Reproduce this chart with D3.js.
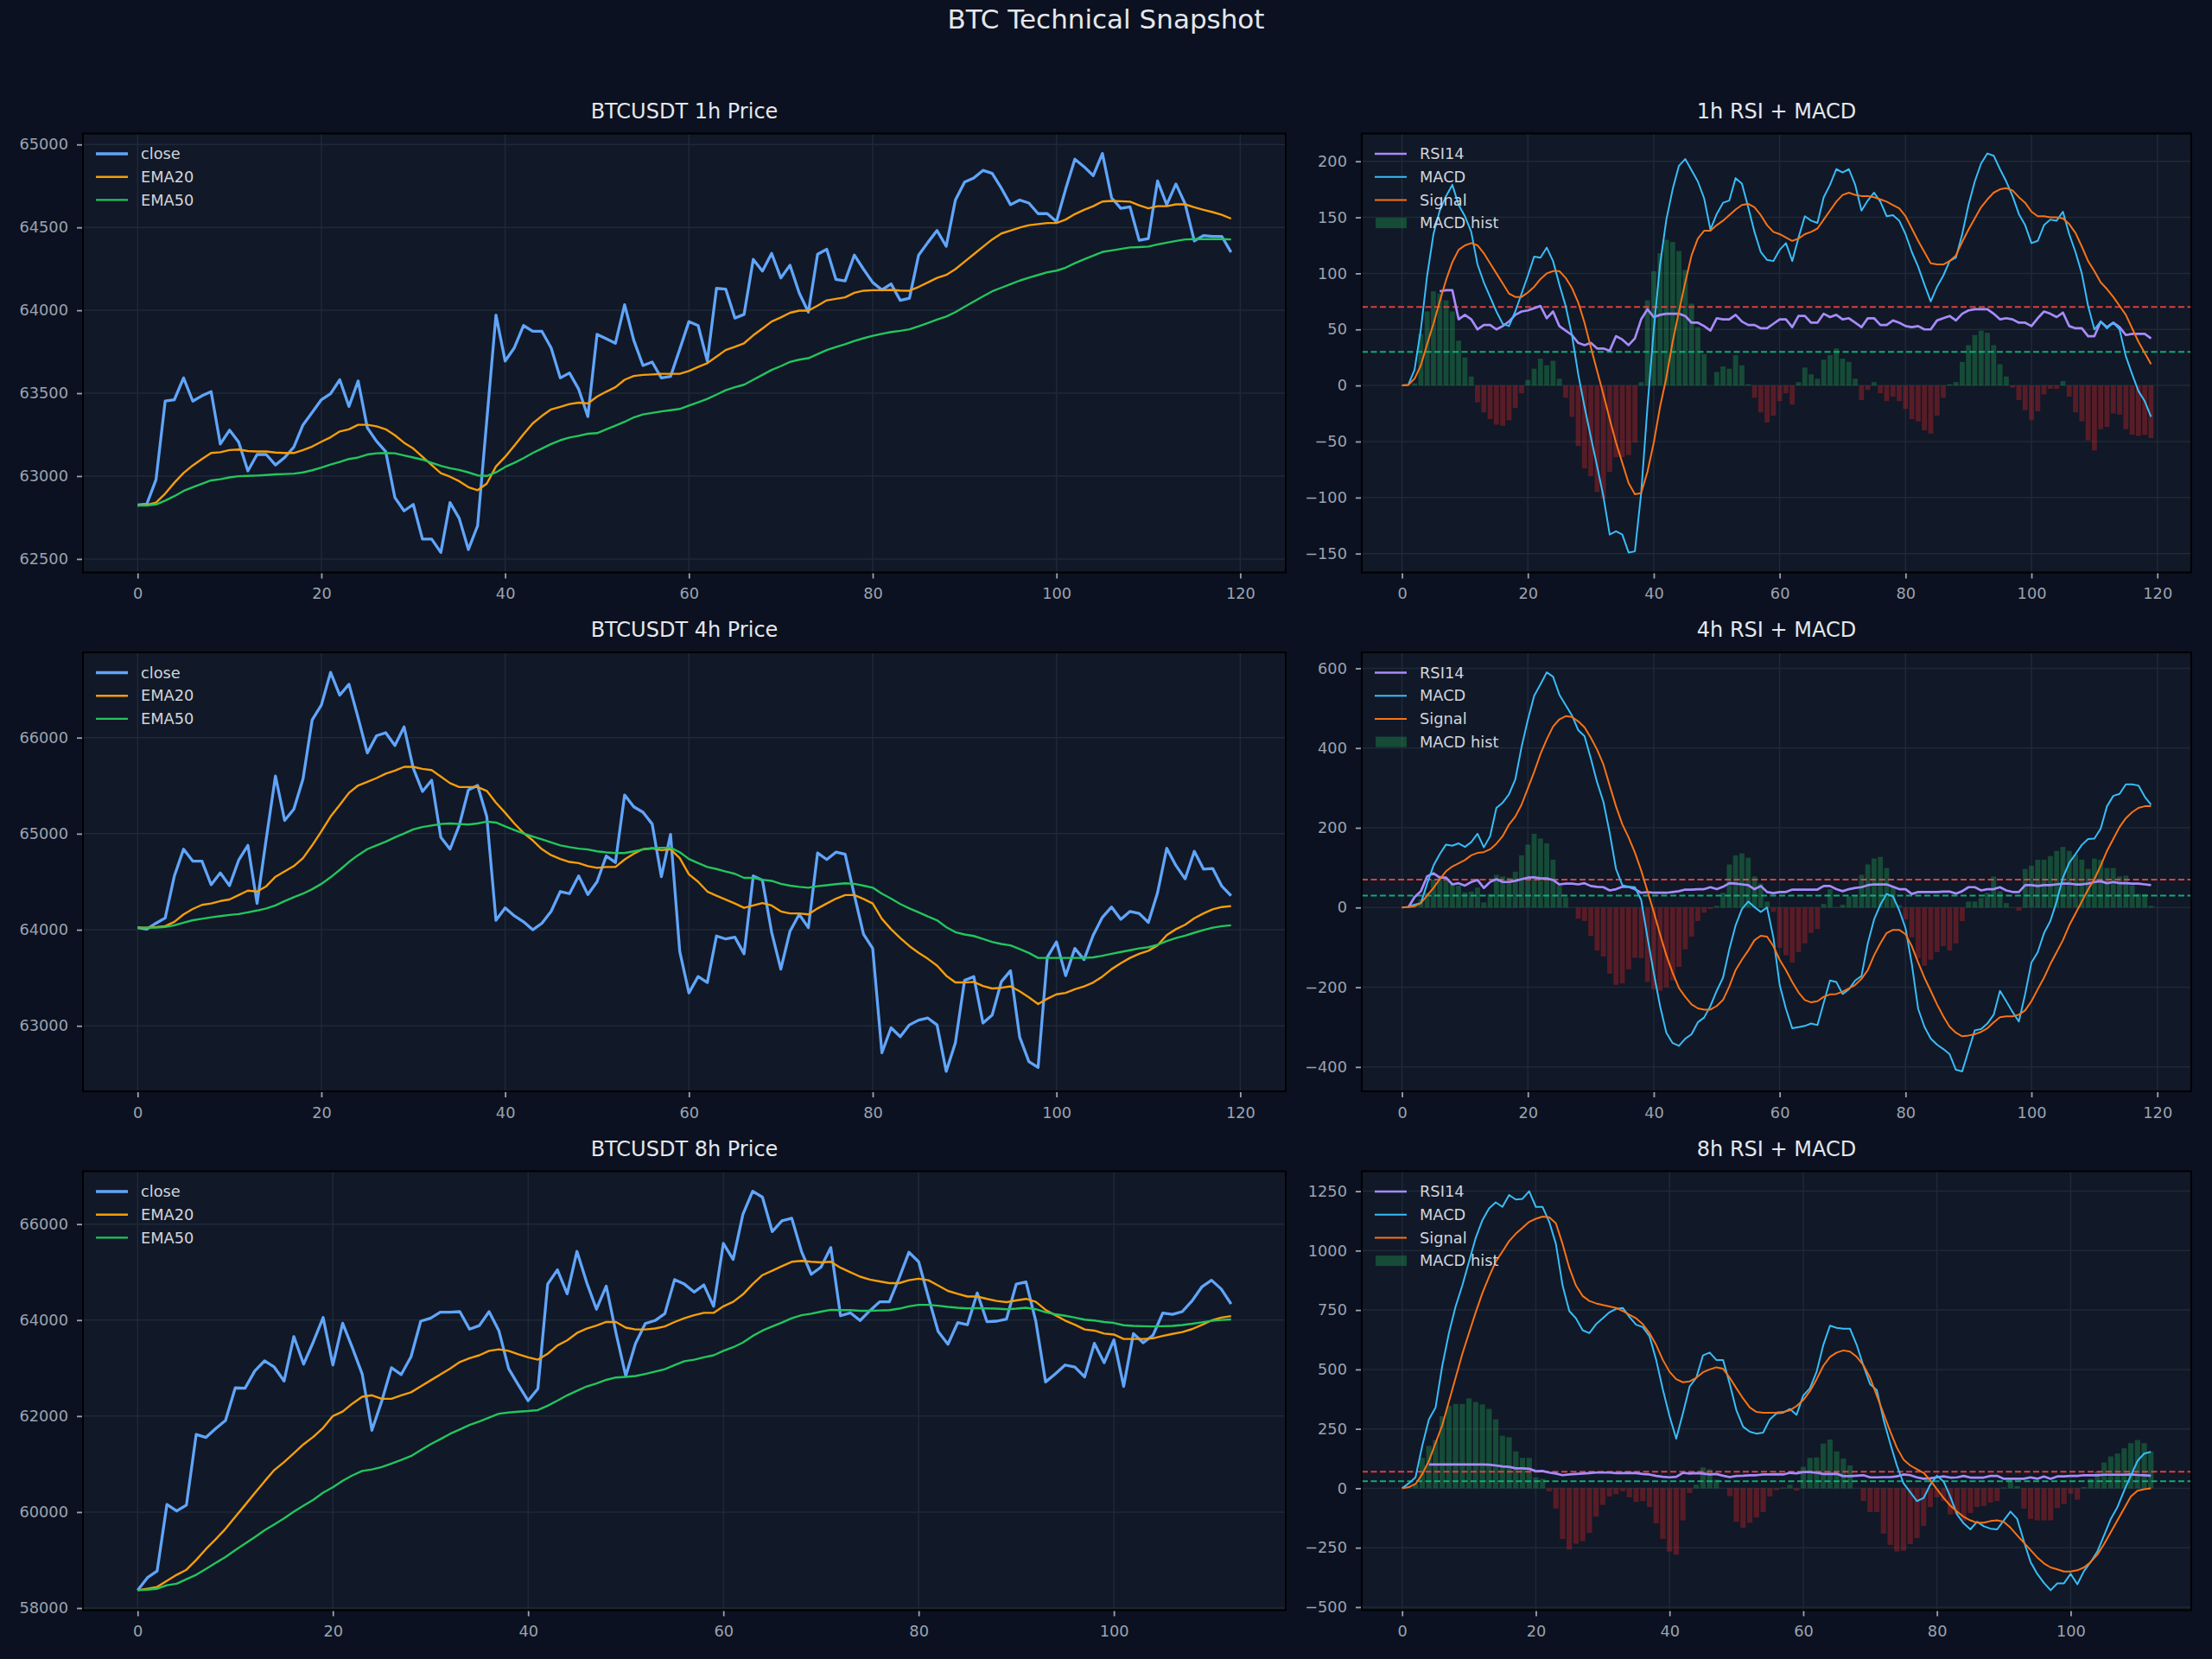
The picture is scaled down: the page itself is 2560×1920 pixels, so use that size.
<!DOCTYPE html>
<html>
<head>
<meta charset="utf-8">
<script src="https://cdn.jsdelivr.net/npm/d3@7"></script>
<style>
  body { margin: 0; background: #0b1120; }
  svg { display: block; font-family: "DejaVu Sans", sans-serif; }
</style>
</head>
<body>
<div id="chart"></div>
<script>
// ---- 1h ----
var close1h = [62826,62831,62978,63452,63461,63592,63452,63484,63509,63193,
  63277,63205,63031,63130,63130,63067,63112,63175,63309,63384,
  63461,63497,63581,63420,63574,63291,63210,63148,62870,62790,
  62829,62620,62620,62539,62840,62745,62557,62700,63336,63971,
  63694,63774,63908,63873,63873,63774,63592,63622,63524,63359,
  63855,63828,63801,64034,63819,63667,63688,63592,63601,63765,
  63932,63908,63694,64132,64128,63953,63975,64307,64236,64343,
  64195,64272,64105,63989,64338,64368,64186,64177,64333,64248,
  64168,64123,64159,64060,64073,64333,64409,64481,64386,64665,
  64773,64798,64844,64826,64737,64637,64665,64647,64583,64583,
  64535,64731,64911,64866,64812,64946,64678,64615,64624,64422,
  64433,64780,64637,64762,64642,64418,64451,64445,64445,64350];
var ema20_1h = [62822,62826,62840,62894,62960,63019,63064,63103,63139,63144,
  63157,63160,63151,63148,63148,63142,63139,63139,63157,63178,
  63207,63234,63269,63282,63309,63309,63300,63282,63246,63201,
  63166,63116,63067,63017,62996,62969,62933,62915,62954,63058,
  63116,63184,63252,63318,63363,63402,63417,63434,63443,63438,
  63479,63509,63536,63581,63604,63610,63613,63617,63617,63617,
  63634,63658,63681,63720,63760,63780,63801,63849,63890,63932,
  63957,63985,63998,63998,64028,64060,64069,64078,64105,64118,
  64121,64121,64123,64119,64118,64141,64168,64195,64213,64248,
  64293,64338,64383,64427,64463,64481,64499,64513,64520,64526,
  64526,64547,64580,64606,64628,64656,64660,64658,64655,64633,
  64615,64628,64628,64639,64639,64621,64606,64592,64576,64553];
var ema50_1h = [62822,62822,62829,62852,62879,62910,62933,62954,62974,62981,
  62992,62999,63001,63003,63006,63010,63012,63015,63022,63035,
  63051,63069,63085,63103,63112,63130,63137,63139,63137,63124,
  63112,63099,63080,63062,63047,63037,63022,63004,63001,63022,
  63055,63080,63108,63139,63166,63193,63216,63232,63243,63255,
  63259,63282,63304,63327,63354,63372,63381,63390,63397,63405,
  63425,63445,63466,63491,63518,63536,63551,63581,63610,63640,
  63663,63688,63702,63711,63735,63760,63778,63795,63815,63831,
  63846,63858,63869,63876,63885,63903,63923,63944,63962,63989,
  64021,64053,64084,64114,64136,64157,64179,64197,64213,64229,
  64239,64257,64284,64307,64329,64352,64361,64370,64379,64381,
  64384,64397,64408,64418,64427,64429,64429,64429,64429,64427];
var rsi1h = [null,null,null,null,null,null,84,85,85,59,
  63,59,50,54,54,50,53,57,63,66,
  67,69,71,60,66,53,49,45,38,36,
  38,33,33,31,44,41,36,42,59,68,
  61,63,64,64,64,62,56,56,53,49,
  60,59,59,63,57,54,54,51,51,55,
  59,59,52,62,62,56,56,64,61,63,
  59,60,56,52,60,60,54,54,58,56,
  53,52,53,50,50,58,60,62,58,64,
  67,68,68,68,64,59,60,59,56,56,
  53,60,66,64,61,65,53,51,51,44,
  44,57,52,56,52,45,46,46,46,42];
var macd1h = [0,0.5,14,50,98,135,156,169,179,161,
  151,137,108,92,79,66,55,53,66,82,
  98,115,114,123,111,90,71,45,10,-19,
  -46,-72,-99,-133,-130,-133,-149,-148,-96,-19,
  50,108,148,175,196,202,192,182,167,139,
  153,163,165,185,180,159,137,119,112,111,
  121,127,111,132,151,147,145,168,179,193,
  190,193,179,156,165,172,164,151,152,147,
  135,119,106,90,75,88,98,111,114,135,
  161,182,198,207,205,193,182,169,153,143,
  127,129,143,148,147,155,135,119,100,71,
  50,57,51,56,50,26,10,-5,-14,-28];
var signal1h = [0,0.5,6,18,37,55,75,94,110,121,
  125,127,125,118,109,100,91,82,79,79,
  83,88,95,100,102,102,96,87,74,56,
  34,13,-8,-30,-51,-69,-87,-97,-96,-77,
  -51,-19,7,39,66,92,116,131,138,138,
  143,147,152,157,161,162,159,152,143,137,
  135,132,129,131,135,137,140,148,156,164,
  170,172,170,169,169,168,166,164,161,158,
  151,140,129,119,109,108,108,111,116,128,
  139,149,159,166,172,175,176,174,168,163,
  155,151,151,150,150,149,144,136,124,111,
  102,92,86,79,71,63,51,39,29,19];
var hist1h = [0,0,2,46,66,84,82,76,66,40,
  25,8,-15,-24,-30,-35,-36,-31,-20,-7,
  5,15,24,18,22,6,-11,-28,-54,-74,
  -81,-95,-101,-77,-64,-64,-62,-51,3,76,
  102,118,130,128,120,103,73,52,28,0,
  12,17,15,27,18,1,-11,-24,-33,-27,
  -14,-7,-17,3,16,10,6,23,27,33,
  24,21,6,-13,-4,3,-7,-14,-10,-14,
  -21,-30,-32,-40,-43,-27,-11,1,3,21,
  36,45,49,47,36,19,8,-2,-13,-22,
  -31,-23,-8,-3,-3,4,-10,-24,-32,-49,
  -58,-39,-37,-25,-26,-39,-44,-45,-44,-47];

// ---- 4h ----
var close4h = [64022,64006,64068,64123,64561,64839,64715,64715,64469,64592,
  64459,64725,64879,64274,64947,65600,65138,65255,65570,66186,
  66340,66680,66442,66556,66205,65841,66020,66051,65918,66112,
  65681,65440,65557,64962,64839,65085,65455,65502,65178,64099,
  64228,64145,64083,64000,64068,64191,64398,64376,64561,64367,
  64500,64768,64700,65403,65280,65224,65101,64552,64993,63775,
  63343,63513,63451,63935,63904,63923,63750,64561,64515,63975,
  63590,63985,64160,64022,64799,64731,64808,64786,64361,63954,
  63806,62720,62979,62887,63010,63059,63081,63010,62526,62825,
  63473,63513,63029,63112,63460,63574,62881,62628,62566,63713,
  63874,63522,63806,63689,63944,64130,64237,64108,64191,64170,
  64077,64385,64848,64669,64530,64817,64632,64638,64453,64355];
var ema20_4h = [64022,64022,64028,64037,64083,64160,64216,64259,64274,64299,
  64315,64361,64407,64398,64453,64552,64607,64663,64746,64879,
  65024,65178,65301,65425,65502,65539,65579,65625,65656,65696,
  65696,65674,65662,65594,65526,65486,65486,65486,65446,65323,
  65218,65107,65008,64931,64839,64777,64737,64706,64694,64663,
  64645,64654,64654,64731,64792,64839,64848,64829,64839,64746,
  64577,64500,64398,64355,64315,64274,64228,64253,64278,64253,
  64191,64170,64170,64160,64222,64274,64324,64361,64361,64321,
  64274,64114,64006,63914,63830,63759,63698,63627,63522,63451,
  63451,63457,63414,63389,63396,63411,63359,63297,63226,63282,
  63328,63343,63380,63411,63451,63513,63590,63652,63707,63750,
  63781,63837,63944,64006,64052,64120,64170,64213,64237,64247];
var ema50_4h = [64022,64022,64022,64028,64046,64074,64099,64114,64130,64142,
  64154,64163,64182,64200,64222,64253,64299,64339,64376,64422,
  64478,64546,64623,64706,64777,64839,64879,64916,64962,65002,
  65045,65070,65085,65101,65107,65101,65095,65107,65126,65116,
  65076,65039,65002,64971,64941,64910,64879,64860,64845,64836,
  64817,64805,64799,64799,64817,64836,64848,64854,64854,64808,
  64737,64694,64654,64632,64607,64583,64540,64540,64521,64509,
  64478,64459,64447,64438,64453,64463,64475,64484,64478,64459,
  64438,64376,64324,64268,64222,64182,64139,64099,64028,63975,
  63951,63935,63904,63874,63852,63837,63800,63759,63707,63707,
  63707,63707,63707,63707,63713,63729,63750,63769,63787,63806,
  63818,63843,63883,63914,63938,63969,63997,64022,64037,64046];
var rsi4h = [null,0,26,41,78,86,75,75,58,61,
  55,64,69,49,64,71,64,64,67,71,
  75,76,73,73,69,58,60,60,58,61,
  54,52,51,43,46,52,52,46,37,39,
  37,37,37,39,41,45,45,46,46,51,
  46,52,61,60,58,56,46,54,39,36,
  39,39,45,45,45,45,45,54,54,46,
  41,46,49,51,56,58,58,58,52,46,
  46,34,39,39,39,39,40,40,35,41,
  51,51,43,46,46,51,43,39,39,56,
  56,54,56,56,58,60,60,58,58,60,
  64,66,61,64,61,61,60,60,58,56];
var macd4h = [0,2,7,11,60,105,134,158,155,161,
  152,164,185,151,179,250,263,284,321,403,
  471,531,560,590,579,534,508,482,445,430,
  374,314,265,187,97,56,52,51,19,-75,
  -164,-247,-314,-340,-347,-329,-318,-288,-276,-247,
  -209,-176,-105,-45,-4,15,1,-11,0,-75,
  -194,-254,-303,-300,-297,-291,-295,-239,-183,-187,
  -217,-205,-183,-172,-90,-30,7,34,28,-7,
  -52,-142,-254,-299,-329,-344,-355,-368,-407,-411,
  -359,-308,-305,-291,-269,-209,-235,-262,-286,-217,
  -138,-112,-64,-34,15,75,112,134,157,172,
  173,198,254,280,285,309,309,306,278,258];
var signal4h = [0,1,3,11,30,49,71,91,103,111,
  119,131,137,139,146,160,179,208,228,258,
  299,340,385,422,454,472,480,478,467,452,
  426,396,359,306,254,209,176,138,93,41,
  -11,-67,-120,-164,-202,-224,-243,-253,-256,-256,
  -247,-232,-198,-157,-131,-108,-82,-71,-73,-97,
  -131,-157,-187,-213,-232,-238,-235,-224,-218,-217,
  -211,-203,-194,-179,-157,-120,-90,-64,-56,-56,
  -67,-97,-138,-176,-209,-243,-273,-299,-314,-323,
  -321,-318,-312,-303,-288,-275,-273,-273,-269,-258,
  -235,-205,-176,-142,-112,-82,-45,-15,15,45,
  71,105,142,172,202,224,239,250,254,254];
var hist4h = [0,0,2,20,37,70,80,70,58,55,
  38,40,50,13,34,82,78,75,90,131,
  158,185,173,161,120,56,26,0,-28,-34,
  -71,-108,-123,-166,-194,-190,-155,-126,-127,-187,
  -205,-209,-200,-183,-149,-105,-73,-34,-13,-4,
  4,37,108,131,136,125,78,60,15,-11,
  -101,-120,-138,-112,-90,-64,-54,9,46,1,
  7,28,31,82,108,123,127,99,52,6,
  -30,-75,-127,-146,-131,-112,-97,-108,-90,-34,
  15,15,24,37,78,41,11,0,-8,97,
  105,120,120,129,142,152,142,133,120,97,
  123,120,99,99,78,80,56,34,34,4];

// ---- 8h ----
var close8h = [58371,58631,58773,60158,60022,60145,61617,61555,61740,61907,
  62587,62581,62940,63150,63020,62730,63657,63082,63546,64053,
  63064,63935,63422,62878,61703,62309,63008,62865,63236,63978,
  64040,64164,64164,64176,63811,63886,64176,63781,62989,62649,
  62321,62569,64751,65048,64547,65431,64782,64226,64708,63731,
  62835,63515,63929,63991,64133,64844,64750,64584,64732,64287,
  65598,65264,66204,66686,66562,65845,66068,66123,65431,64955,
  65103,65511,64090,64152,63991,64195,64380,64380,64875,65413,
  65215,64473,63762,63496,63947,63904,64566,63966,63978,64022,
  64751,64794,63978,62711,62878,63064,63020,62816,63515,63113,
  63589,62618,63719,63527,63682,64145,64121,64176,64399,64690,
  64831,64646,64337];
var ema20_8h = [58371,58402,58439,58569,58692,58798,59002,59230,59434,59651,
  59898,60145,60393,60640,60875,61042,61227,61413,61567,61753,
  62000,62093,62260,62402,62433,62359,62359,62433,62495,62618,
  62742,62866,62989,63125,63206,63267,63360,63391,63360,63286,
  63224,63175,63298,63471,63577,63731,63824,63886,63960,63960,
  63842,63805,63805,63824,63867,63960,64040,64102,64151,64151,
  64287,64380,64535,64751,64937,65030,65122,65215,65233,65215,
  65203,65215,65091,64998,64905,64844,64807,64770,64770,64831,
  64862,64831,64720,64608,64547,64491,64491,64442,64399,64374,
  64411,64442,64380,64213,64102,63991,63904,63805,63781,63719,
  63700,63607,63607,63607,63620,63669,63713,63750,63811,63898,
  63991,64053,64083];
var ema50_8h = [58371,58383,58402,58476,58507,58600,58692,58816,58940,59063,
  59206,59342,59478,59620,59743,59867,60009,60133,60257,60405,
  60516,60652,60764,60856,60887,60937,61011,61085,61165,61289,
  61413,61518,61629,61722,61815,61889,61969,62049,62074,62093,
  62105,62124,62216,62321,62433,62526,62618,62680,62754,62804,
  62816,62835,62878,62927,62977,63063,63144,63175,63224,63267,
  63360,63434,63533,63669,63781,63867,63947,64040,64102,64133,
  64176,64213,64207,64207,64195,64195,64201,64207,64238,64287,
  64318,64318,64300,64275,64256,64244,64250,64244,64238,64226,
  64238,64256,64226,64164,64121,64090,64053,64009,63991,63960,
  63941,63892,63880,63873,63867,63873,63880,63898,63923,63954,
  63985,64003,64015];
var rsi8h = [null,null,null,null,100,100,100,100,100,100,
  100,100,100,99,96,92,90,84,84,82,
  72,73,66,62,55,58,60,62,64,66,
  66,66,64,64,65,64,60,58,52,48,
  46,48,65,62,64,62,58,60,53,47,
  52,53,55,55,58,58,59,58,65,63,
  68,68,65,60,60,61,51,51,53,55,
  46,46,47,47,50,58,55,46,40,42,
  46,50,45,46,52,45,45,45,52,52,
  40,40,40,40,46,40,50,40,50,50,
  52,52,55,55,55,57,57,57,57,58,
  56,55,53];
var macd8h = [0,21,46,178,290,340,515,653,765,853,
  953,1053,1128,1178,1203,1184,1234,1215,1218,1250,
  1184,1184,1121,1028,853,746,715,665,653,690,
  715,740,755,759,721,688,678,640,540,415,
  303,209,315,428,465,559,571,540,540,440,
  328,259,238,230,234,290,315,318,334,309,
  390,421,490,603,684,675,671,671,603,515,
  438,413,290,190,96,21,-16,-54,-41,15,
  53,28,-35,-110,-148,-173,-141,-160,-170,-173,
  -135,-98,-129,-223,-310,-360,-398,-429,-400,-400,
  -360,-404,-348,-310,-266,-198,-129,-79,-10,53,
  115,146,153];
var signal8h = [0,5,18,59,115,190,265,365,465,565,
  653,740,821,890,953,996,1040,1071,1096,1121,
  1134,1143,1140,1115,1028,928,853,809,788,778,
  771,765,759,746,730,715,690,653,603,540,
  490,459,446,450,465,488,500,509,503,465,
  421,378,340,321,318,318,319,321,328,346,
  371,409,459,515,553,571,580,575,553,518,
  465,390,315,240,171,121,96,80,65,34,
  -4,-41,-73,-98,-120,-135,-145,-145,-138,-135,
  -141,-166,-198,-229,-260,-291,-316,-333,-341,-350,
  -350,-345,-333,-310,-279,-235,-185,-135,-85,-35,
  -10,-4,0];
var hist8h = [0,5,20,128,178,203,303,346,355,355,
  378,363,353,334,290,221,215,155,128,128,
  46,40,-13,-85,-213,-258,-233,-223,-188,-120,
  -70,-35,-25,-13,-38,-58,-54,-79,-148,-213,
  -266,-279,-135,-20,15,88,80,36,0,-33,
  -141,-166,-145,-123,-100,-35,-8,3,15,-10,
  90,128,130,188,205,155,125,96,0,-54,
  -100,-100,-191,-238,-266,-263,-235,-210,-158,-79,
  -38,-54,-110,-108,-138,-104,-79,-75,-60,-54,
  3,40,9,-85,-129,-135,-135,-135,-83,-66,
  -23,-48,5,40,71,109,134,146,168,190,
  203,190,155];

// tick labels
var xTicksLong = [0, 20, 40, 60, 80, 100, 120];
var xTicksShort = [0, 20, 40, 60, 80, 100];
var priceTicks1h = [62500, 63000, 63500, 64000, 64500, 65000];
var priceTicks4h = [63000, 64000, 65000, 66000];
var priceTicks8h = [58000, 60000, 62000, 64000, 66000];
var indTicks1h = [-150, -100, -50, 0, 50, 100, 150, 200];
var indTicks4h = [-400, -200, 0, 200, 400, 600];
var indTicks8h = [-500, -250, 0, 250, 500, 750, 1000, 1250];
var frames = ['1h', '4h', '8h'];

var rows = [
  {tf: frames[0], close: close1h, ema20: ema20_1h, ema50: ema50_1h, rsi: rsi1h, macd: macd1h, signal: signal1h, hist: hist1h, pTicks: priceTicks1h, iTicks: indTicks1h, xTicks: xTicksLong},
  {tf: frames[1], close: close4h, ema20: ema20_4h, ema50: ema50_4h, rsi: rsi4h, macd: macd4h, signal: signal4h, hist: hist4h, pTicks: priceTicks4h, iTicks: indTicks4h, xTicks: xTicksLong},
  {tf: frames[2], close: close8h, ema20: ema20_8h, ema50: ema50_8h, rsi: rsi8h, macd: macd8h, signal: signal8h, hist: hist8h, pTicks: priceTicks8h, iTicks: indTicks8h, xTicks: xTicksShort}
];

var W = 2560, H = 1920;
var leftX = 96, leftW = 1392, rightX = 1576, rightW = 960;
var rowTop = [154.5, 755, 1355.5], rowH = 508;

var col = {
  close: '#60a5fa', ema20: '#f59e0b', ema50: '#22c55e',
  rsi: '#a78bfa', macd: '#38bdf8', signal: '#f97316',
  histUp: '#22c55e', histDown: '#dc2626',
  ob: '#ef4444', os: '#10b981',
  tick: '#9ca3af', text: '#e5e7eb', legend: '#d1d5db',
  grid: '#1f2937', axBg: '#111827'
};

var svg = d3.select('#chart').append('svg')
  .attr('width', W)
  .attr('height', H);

svg.append('rect').attr('width', W).attr('height', H).attr('fill', '#0b1120');

svg.append('text')
  .attr('x', W / 2)
  .attr('y', 33)
  .attr('text-anchor', 'middle')
  .attr('fill', col.text)
  .style('font-size', '31px')
  .text('BTC Technical Snapshot');

function pad(ext) {
  var s = ext[1] - ext[0];
  return [ext[0] - s * 0.05, ext[1] + s * 0.05];
}

// background, grid, axes, spines and title for one panel
function frame(g, x, y, xs, ys, xTicks, yTicks, title) {
  var x0 = xs.range()[0], x1 = xs.range()[1];
  var y0 = ys.range()[1], y1 = ys.range()[0];
  g.append('rect')
    .attr('x', x0).attr('y', y0)
    .attr('width', x1 - x0).attr('height', y1 - y0)
    .attr('fill', col.axBg);

  g.append('g').selectAll('line').data(xTicks).enter().append('line')
    .attr('x1', d => xs(d)).attr('x2', d => xs(d))
    .attr('y1', y0).attr('y2', y1)
    .attr('stroke', col.grid).attr('stroke-width', 1.5);
  g.append('g').selectAll('line').data(yTicks).enter().append('line')
    .attr('x1', x0).attr('x2', x1)
    .attr('y1', d => ys(d)).attr('y2', d => ys(d))
    .attr('stroke', col.grid).attr('stroke-width', 1.5);

  var fmt = d3.format('d');
  var ax = g.append('g')
    .attr('transform', 'translate(0,' + y1 + ')')
    .call(d3.axisBottom(xs).tickValues(xTicks).tickFormat(fmt).tickSize(7).tickPadding(11));
  var ay = g.append('g')
    .attr('transform', 'translate(' + x0 + ',0)')
    .call(d3.axisLeft(ys).tickValues(yTicks).tickFormat(fmt).tickSize(7).tickPadding(10));
  [ax, ay].forEach(function(a) {
    a.select('.domain').remove();
    a.selectAll('line').attr('stroke', col.tick).attr('stroke-width', 1.8);
    a.selectAll('text')
      .attr('fill', col.tick)
      .style('font-size', '17.8px')
      .style('font-family', '"DejaVu Sans", sans-serif');
  });

  g.append('text')
    .attr('x', (x0 + x1) / 2)
    .attr('y', y0 - 18)
    .attr('text-anchor', 'middle')
    .attr('fill', col.text)
    .style('font-size', '24px')
    .text(title);
}

function legend(g, x0, y0, items) {
  var lg = g.append('g')
    .selectAll('g')
    .data(items)
    .enter().append('g')
    .attr('transform', (d, i) => 'translate(' + x0 + ',' + (y0 + 23.5 + i * 26.7) + ')');
  lg.each(function(d) {
    var s = d3.select(this);
    if (d.patch) {
      s.append('rect').attr('x', 16).attr('y', -6).attr('width', 36).attr('height', 12)
        .attr('fill', d.color).attr('fill-opacity', 0.3);
    } else {
      s.append('line').attr('x1', 15).attr('x2', 52).attr('y1', 0).attr('y2', 0)
        .attr('stroke', d.color).attr('stroke-width', d.w);
    }
  });
  lg.append('text')
    .attr('x', 67)
    .attr('dy', '0.35em')
    .attr('fill', col.legend)
    .style('font-size', '17.8px')
    .text(d => d.name);
}

rows.forEach(function(r, ri) {
  var top = rowTop[ri];
  var n = r.close.length;

  // ---- price panel ----
  var xs = d3.scaleLinear()
    .domain([-(n - 1) * 0.05, (n - 1) * 1.05])
    .range([leftX, leftX + leftW]);
  var ys = d3.scaleLinear()
    .domain(pad(d3.extent(r.close.concat(r.ema20, r.ema50))))
    .range([top + rowH, top]);
  var g = svg.append('g');
  frame(g, leftX, top, xs, ys, r.xTicks, r.pTicks, 'BTCUSDT ' + r.tf + ' Price');

  var line = d3.line().x((d, i) => xs(i)).y(d => ys(d));
  [['close', 3.3], ['ema20', 2.4], ['ema50', 2.4]].forEach(function(s) {
    g.append('path')
      .datum(r[s[0]])
      .attr('d', line)
      .attr('fill', 'none')
      .attr('stroke', col[s[0]])
      .attr('stroke-width', s[1])
      .attr('stroke-linejoin', 'round');
  });
  g.append('rect')
    .attr('x', leftX).attr('y', top).attr('width', leftW).attr('height', rowH)
    .attr('fill', 'none').attr('stroke', '#000').attr('stroke-width', 2);
  legend(g, leftX, top, [
    {name: 'close', color: col.close, w: 3.3},
    {name: 'EMA20', color: col.ema20, w: 2.4},
    {name: 'EMA50', color: col.ema50, w: 2.4}
  ]);

  // ---- RSI + MACD panel ----
  var span = n - 0.2;
  var xs2 = d3.scaleLinear()
    .domain([-0.4 - span * 0.05, n - 0.6 + span * 0.05])
    .range([rightX, rightX + rightW]);
  var allVals = r.macd.concat(r.signal, r.hist, r.rsi.filter(v => v !== null), [0, 30, 70]);
  var ys2 = d3.scaleLinear()
    .domain(pad(d3.extent(allVals)))
    .range([top + rowH, top]);
  var g2 = svg.append('g');
  frame(g2, rightX, top, xs2, ys2, r.xTicks, r.iTicks, r.tf + ' RSI + MACD');

  var bw = xs2(0.8) - xs2(0);
  g2.append('g').selectAll('rect')
    .data(r.hist)
    .enter().append('rect')
    .attr('x', (d, i) => xs2(i - 0.4))
    .attr('width', bw)
    .attr('y', d => ys2(Math.max(0, d)))
    .attr('height', d => Math.abs(ys2(d) - ys2(0)))
    .attr('fill', d => d >= 0 ? col.histUp : col.histDown)
    .attr('fill-opacity', d => d >= 0 ? 0.3 : 0.35);

  [[70, col.ob], [30, col.os]].forEach(function(h) {
    g2.append('line')
      .attr('x1', rightX).attr('x2', rightX + rightW)
      .attr('y1', ys2(h[0])).attr('y2', ys2(h[0]))
      .attr('stroke', h[1]).attr('stroke-width', 2)
      .attr('stroke-dasharray', '7,3.5')
      .attr('opacity', 0.9);
  });

  var line2 = d3.line()
    .defined(d => d !== null)
    .x((d, i) => xs2(i))
    .y(d => ys2(d));
  [['rsi', 2.7], ['macd', 2], ['signal', 2]].forEach(function(s) {
    g2.append('path')
      .datum(r[s[0]])
      .attr('d', line2)
      .attr('fill', 'none')
      .attr('stroke', col[s[0]])
      .attr('stroke-width', s[1])
      .attr('stroke-linejoin', 'round');
  });
  g2.append('rect')
    .attr('x', rightX).attr('y', top).attr('width', rightW).attr('height', rowH)
    .attr('fill', 'none').attr('stroke', '#000').attr('stroke-width', 2);
  legend(g2, rightX, top, [
    {name: 'RSI14', color: col.rsi, w: 2.7},
    {name: 'MACD', color: col.macd, w: 2},
    {name: 'Signal', color: col.signal, w: 2},
    {name: 'MACD hist', color: col.histUp, patch: true}
  ]);
});
</script>
</body>
</html>
